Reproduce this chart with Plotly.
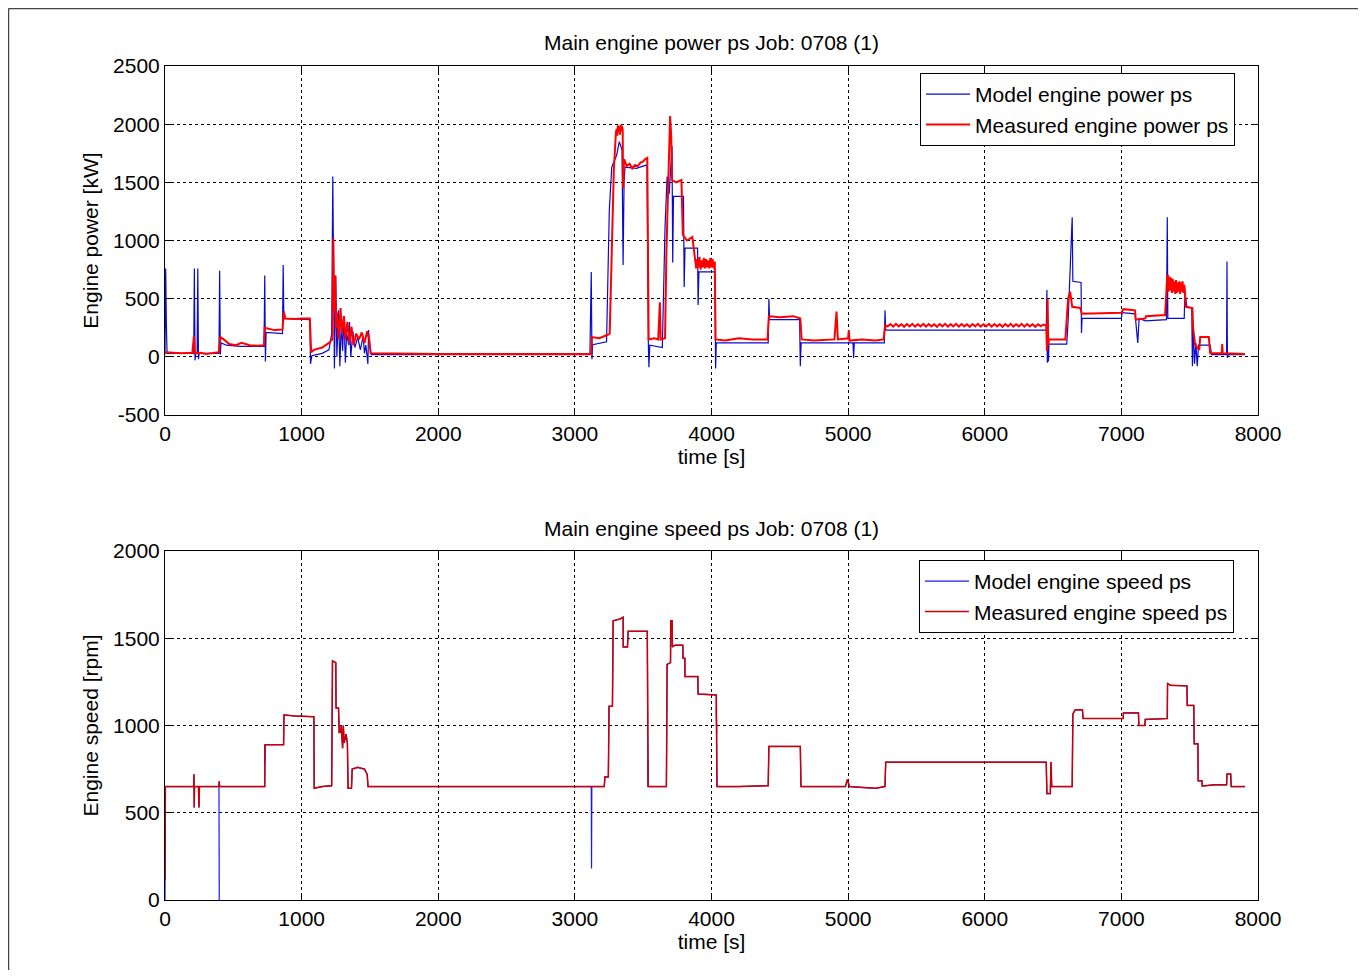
import plotly.graph_objects as go

# ---------------- data (time [s], value) ----------------
power_model = [
    (0, 20), (5, 760), (10, 280), (15, 30), (210, 30), (215, 760), (220, -30), (225, 30),
    (235, 30), (240, 760), (245, -20), (250, 30), (395, 30), (400, 740), (405, 20), (410, 120),
    (450, 100), (550, 90), (700, 90), (725, 90), (730, 700), (735, -40), (740, 210), (860, 200),
    (865, 790), (870, 330), (1060, 320), (1065, -60), (1075, 10), (1150, 30), (1200, 60),
    (1220, 200), (1228, 1550), (1235, 200), (1240, -100), (1250, 700), (1258, 0), (1270, 400),
    (1280, -80), (1290, 300), (1300, 50), (1310, 350), (1320, -50), (1330, 200), (1345, 100),
    (1350, 300), (1360, 0), (1375, 220), (1390, 80), (1410, 170), (1430, 60), (1450, 180),
    (1460, 30), (1470, 100), (1485, -60), (1490, 230), (1500, 80), (1510, 20), (2000, 20),
    (3110, 20), (3120, 730), (3125, -20), (3130, 105), (3232, 130), (3252, 1260), (3270, 1630),
    (3306, 1735), (3325, 1850), (3345, 1780), (3353, 790), (3360, 1500), (3367, 1630),
    (3450, 1620), (3528, 1650), (3538, 100), (3542, -90), (3548, 100), (3600, 90), (3640, 80),
    (3660, 1120), (3675, 1550), (3690, 1400), (3711, 1810), (3716, 810), (3722, 1380),
    (3795, 1380), (3800, 600), (3806, 935), (3898, 935), (3902, 445), (3908, 730), (4025, 730),
    (4030, -100), (4035, 120), (4200, 120), (4415, 120), (4420, 500), (4425, 320), (4645, 320),
    (4650, -80), (4656, 120), (4900, 120), (5036, 120), (5040, -10), (5045, 120), (5265, 120),
    (5270, 400), (5275, 230), (6450, 230), (6455, 575), (6458, -50), (6462, 300), (6466, -40),
    (6470, 110), (6600, 110), (6610, 300), (6640, 1200), (6645, 650), (6705, 640), (6708, 205),
    (6712, 330), (7000, 330), (7005, 380), (7100, 370), (7120, 120), (7130, 330), (7175, 310),
    (7330, 320), (7336, 1200), (7340, 330), (7460, 330), (7465, 550), (7480, 430), (7515, 420),
    (7520, -80), (7525, 300), (7535, -60), (7545, 120), (7555, -80), (7565, 100), (7650, 100),
    (7660, 20), (7770, 20), (7773, 820), (7776, -10), (7780, 20), (7905, 20),
]

power_measured = [
    (0, 40), (60, 35), (120, 30), (200, 35), (212, 180), (218, 30), (260, 35), (300, 25),
    (340, 30), (395, 40), (405, 170), (430, 150), (470, 110), (520, 100), (560, 120),
    (620, 100), (680, 95), (725, 100), (730, 250), (760, 240), (800, 230), (860, 235),
    (870, 390), (880, 330), (950, 325), (1000, 330), (1060, 330), (1070, 40), (1090, 60),
    (1150, 80), (1200, 120), (1225, 150), (1232, 1020), (1238, 400), (1245, 700), (1252, 250),
    (1260, 380), (1270, 150), (1285, 420), (1295, 200), (1310, 350), (1320, 150), (1335, 300),
    (1350, 120), (1365, 260), (1380, 100), (1400, 200), (1420, 150), (1440, 210), (1460, 120),
    (1480, 220), (1495, 150), (1505, 30), (2000, 25), (2500, 25), (3100, 25), (3120, 25),
    (3125, 170), (3180, 160), (3240, 190), (3255, 200), (3270, 900), (3285, 1600),
    (3300, 1920), (3305, 1960), (3310, 1900), (3315, 1990), (3320, 1930), (3325, 1980),
    (3330, 1910), (3335, 1995), (3340, 1940), (3345, 1985), (3350, 1950), (3353, 1450),
    (3360, 1700), (3380, 1640), (3400, 1660), (3420, 1620), (3440, 1650), (3460, 1640),
    (3480, 1670), (3500, 1680), (3515, 1700), (3530, 1710), (3540, 150), (3580, 160),
    (3610, 150), (3622, 470), (3628, 150), (3660, 160), (3670, 900), (3685, 1700),
    (3697, 2070), (3705, 1900), (3712, 1520), (3740, 1500), (3780, 1520), (3790, 1050),
    (3820, 1000), (3860, 1030), (3880, 850), (3888, 760), (3896, 840), (3904, 770),
    (3912, 860), (3920, 750), (3928, 830), (3936, 770), (3944, 850), (3952, 760), (3960, 840),
    (3968, 770), (3976, 830), (3984, 760), (3992, 850), (4000, 770), (4008, 840), (4016, 760),
    (4024, 820), (4030, 150), (4100, 140), (4200, 160), (4300, 150), (4410, 150), (4420, 350),
    (4500, 340), (4600, 350), (4650, 330), (4660, 150), (4750, 140), (4900, 150), (4915, 390),
    (4925, 150), (5000, 160), (5005, 230), (5010, 140), (5100, 150), (5200, 140), (5260, 150),
    (5270, 270), (5290, 262), (5310, 282), (5330, 260), (5350, 284), (5370, 262), (5390, 280),
    (5410, 258), (5430, 282), (5450, 262), (5470, 284), (5490, 260), (5510, 280), (5530, 262),
    (5550, 284), (5570, 260), (5590, 282), (5610, 262), (5630, 280), (5650, 258), (5670, 282),
    (5690, 262), (5710, 284), (5730, 260), (5750, 280), (5770, 262), (5790, 284), (5810, 260),
    (5830, 282), (5850, 262), (5870, 280), (5890, 258), (5910, 282), (5930, 262), (5950, 284),
    (5970, 260), (5990, 280), (6010, 262), (6030, 284), (6050, 260), (6070, 282), (6090, 262),
    (6110, 280), (6130, 258), (6150, 282), (6170, 262), (6190, 284), (6210, 260), (6230, 280),
    (6250, 262), (6270, 284), (6290, 260), (6310, 282), (6330, 262), (6350, 280), (6370, 258),
    (6390, 280), (6410, 262), (6430, 278), (6450, 270), (6455, 50), (6460, 500), (6465, 100),
    (6470, 150), (6590, 150), (6610, 500), (6625, 560), (6640, 430), (6700, 420), (6710, 370),
    (7000, 380), (7015, 410), (7100, 400), (7105, 320), (7175, 330), (7180, 350), (7320, 360),
    (7336, 700), (7340, 700), (7346, 560), (7352, 690), (7358, 570), (7364, 680), (7370, 550),
    (7376, 670), (7382, 560), (7388, 650), (7394, 540), (7400, 660), (7406, 550), (7412, 640),
    (7418, 560), (7424, 650), (7430, 540), (7436, 640), (7442, 560), (7448, 650), (7454, 550),
    (7460, 620), (7466, 560), (7470, 430), (7520, 420), (7525, 250), (7540, 100), (7570, 60),
    (7577, 170), (7640, 170), (7650, 30), (7735, 30), (7738, 110), (7742, 30), (7905, 25),
]

speed_measured = [
    (0, 115), (3, 650), (210, 650), (212, 720), (214, 530), (216, 650), (245, 650), (249, 530),
    (252, 650), (395, 650), (397, 680), (400, 650), (730, 650), (732, 890), (868, 890),
    (871, 1060), (950, 1055), (1090, 1050), (1092, 640), (1150, 650), (1220, 655), (1226, 1370),
    (1250, 1360), (1252, 1100), (1270, 1100), (1275, 960), (1285, 960), (1290, 1000),
    (1300, 870), (1305, 1000), (1312, 900), (1318, 940), (1325, 950), (1335, 900), (1340, 640),
    (1365, 640), (1370, 750), (1410, 760), (1460, 750), (1480, 720), (1486, 650), (2500, 650),
    (3215, 650), (3220, 705), (3245, 705), (3250, 1110), (3275, 1110), (3280, 1600),
    (3330, 1610), (3353, 1620), (3354, 1450), (3385, 1450), (3390, 1540), (3530, 1540),
    (3536, 650), (3670, 650), (3675, 1350), (3700, 1360), (3702, 1600), (3712, 1600),
    (3714, 1450), (3733, 1460), (3790, 1460), (3792, 1385), (3805, 1385), (3806, 1280),
    (3900, 1280), (3902, 1180), (4035, 1175), (4040, 650), (4200, 650), (4415, 655),
    (4420, 880), (4650, 880), (4655, 650), (4980, 650), (4995, 690), (5010, 650), (5150, 640),
    (5200, 640), (5270, 650), (5275, 790), (6450, 790), (6455, 610), (6480, 610), (6485, 790),
    (6490, 650), (6640, 650), (6645, 1066), (6662, 1090), (6715, 1090), (6720, 1040),
    (7013, 1040), (7015, 1072), (7125, 1072), (7128, 1000), (7172, 1000), (7175, 1035),
    (7336, 1040), (7338, 1240), (7360, 1230), (7480, 1227), (7482, 1115), (7530, 1115),
    (7533, 895), (7560, 895), (7562, 683), (7590, 683), (7592, 653), (7680, 660), (7770, 660),
    (7773, 722), (7800, 722), (7804, 650), (7905, 650),
]

# model speed follows the measured one, with these extra excursions
speed_model_spikes = [
    [(0, 0), (3, 650)],
    [(395, 650), (397, 0)],
    [(730, 780), (732, 890)],
    [(3120, 650), (3122, 180), (3124, 650)],
    [(3536, 800), (3536, 650)],
    [(3700, 1450), (3702, 1520)],
    [(4035, 1100), (4038, 950)],
]

power_ticks = [-500, 0, 500, 1000, 1500, 2000, 2500]
power_tick_text = ["-500", "0", "500", "1000", "1500", "2000", "2500"]
speed_ticks = [0, 500, 1000, 1500, 2000]
speed_tick_text = ["0", "500", "1000", "1500", "2000"]
time_ticks = [0, 1000, 2000, 3000, 4000, 5000, 6000, 7000, 8000]
time_tick_text = ["0", "1000", "2000", "3000", "4000", "5000", "6000", "7000", "8000"]


def unzip(pairs):
    return [p[0] for p in pairs], [p[1] for p in pairs]


pm_t, pm_v = unzip(power_model)
pr_t, pr_v = unzip(power_measured)
sr_t, sr_v = unzip(speed_measured)
sm_t, sm_v = list(sr_t), list(sr_v)
for seg in speed_model_spikes:
    st, sv = unzip(seg)
    sm_t += [None] + st
    sm_v += [None] + sv

FONT = "Liberation Sans, Arial, Helvetica, sans-serif"
FS = 21

fig = go.Figure()
fig.add_trace(go.Scatter(x=pm_t, y=pm_v, mode="lines", name="Model engine power ps",
                         line=dict(color="#0a0acc", width=1.2), xaxis="x", yaxis="y",
                         legend="legend"))
fig.add_trace(go.Scatter(x=pr_t, y=pr_v, mode="lines", name="Measured engine power ps",
                         line=dict(color="#ff0000", width=2), xaxis="x", yaxis="y",
                         legend="legend"))
fig.add_trace(go.Scatter(x=sm_t, y=sm_v, mode="lines", name="Model engine speed ps",
                         line=dict(color="#1a1aee", width=1.2), xaxis="x2", yaxis="y2",
                         legend="legend2"))
fig.add_trace(go.Scatter(x=sr_t, y=sr_v, mode="lines", name="Measured engine speed ps",
                         line=dict(color="#cc0000", width=1.5), xaxis="x2", yaxis="y2",
                         legend="legend2"))

axis_common = dict(showline=True, linecolor="black", linewidth=1, mirror="allticks",
                   ticks="inside", ticklen=6, tickcolor="black", showgrid=True,
                   gridcolor="black", griddash="dot", gridwidth=1, zeroline=False,
                   tickfont=dict(family=FONT, size=FS, color="black"))

fig.update_layout(
    width=1350, height=962,
    margin=dict(l=157, r=100, t=58, b=70),
    paper_bgcolor="white", plot_bgcolor="white",
    font=dict(family=FONT, size=FS, color="black"),
    xaxis=dict(domain=[0, 1], anchor="y", range=[0, 8000], tickvals=time_ticks,
               ticktext=time_tick_text,
               title=dict(text="time [s]", font=dict(size=FS), standoff=1), **axis_common),
    yaxis=dict(domain=[0.5815, 1], anchor="x", range=[-500, 2500], tickvals=power_ticks,
               ticktext=power_tick_text,
               title=dict(text="Engine power [kW]", font=dict(size=FS), standoff=8), **axis_common),
    xaxis2=dict(domain=[0, 1], anchor="y2", range=[0, 8000], tickvals=time_ticks,
                ticktext=time_tick_text,
                title=dict(text="time [s]", font=dict(size=FS), standoff=1), **axis_common),
    yaxis2=dict(domain=[0, 0.4185], anchor="x2", range=[0, 2000], tickvals=speed_ticks,
                ticktext=speed_tick_text,
                title=dict(text="Engine speed [rpm]", font=dict(size=FS), standoff=8), **axis_common),
    legend=dict(x=0.979, y=0.9916, xanchor="right", yanchor="top", bgcolor="white",
                bordercolor="black", borderwidth=1, font=dict(size=FS), tracegroupgap=0,
                itemwidth=44),
    legend2=dict(x=0.978, y=0.4077, xanchor="right", yanchor="top", bgcolor="white",
                 bordercolor="black", borderwidth=1, font=dict(size=FS), tracegroupgap=0,
                 itemwidth=44),
    annotations=[
        dict(text="Main engine power ps Job: 0708 (1)", x=0.5, y=1.0276, xref="paper",
             yref="paper", showarrow=False, xanchor="center", yanchor="middle",
             font=dict(size=FS)),
        dict(text="Main engine speed ps Job: 0708 (1)", x=0.5, y=0.446, xref="paper",
             yref="paper", showarrow=False, xanchor="center", yanchor="middle",
             font=dict(size=FS)),
    ],
    shapes=[
        dict(type="line", xref="paper", yref="paper", x0=-0.1432, x1=1.2, y0=1.069, y1=1.069,
             line=dict(color="#444444", width=1.5)),
        dict(type="line", xref="paper", yref="paper", x0=-0.1432, x1=-0.1432, y0=1.069, y1=-0.2,
             line=dict(color="#444444", width=1.5)),
    ],
    showlegend=True,
)

fig.write_html("out.html")
